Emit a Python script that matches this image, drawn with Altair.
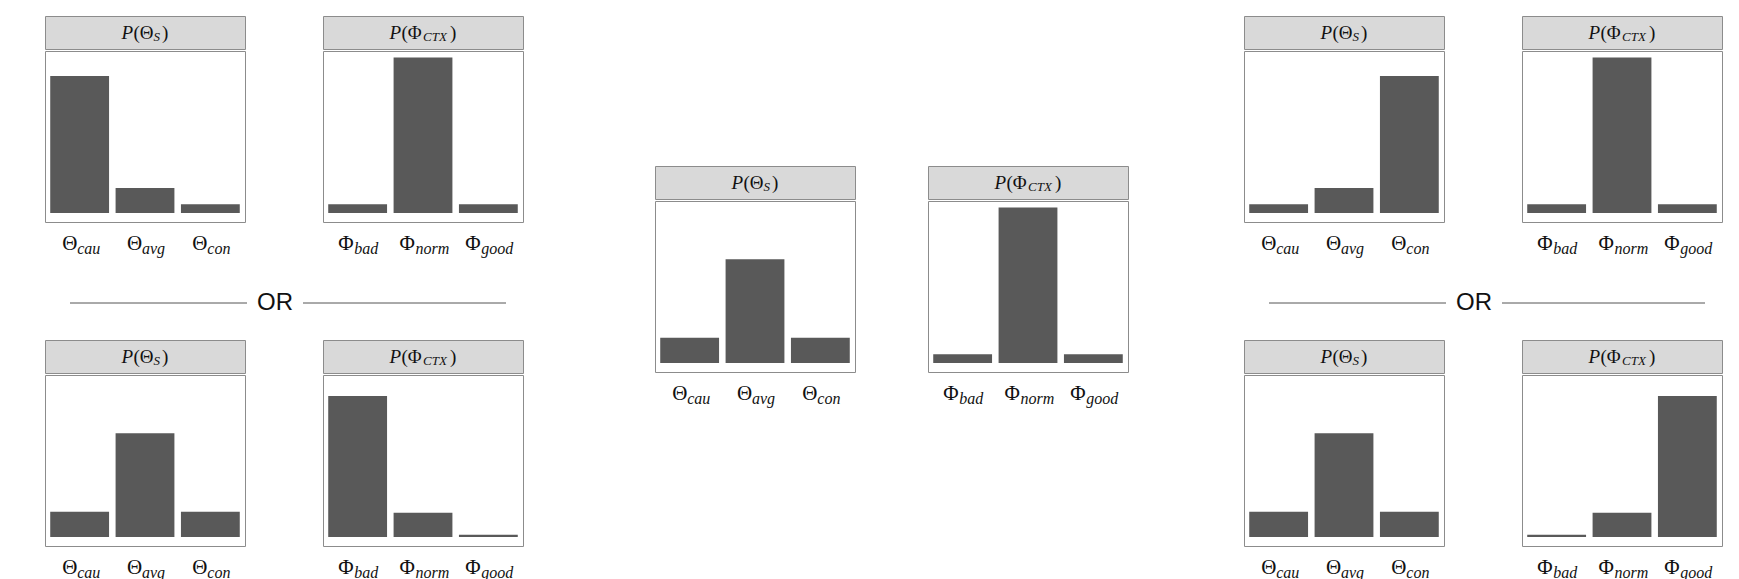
import altair as alt
import pandas as pd

# categories and subscripts
theta_cats = ["cau", "avg", "con"]
phi_cats = ["bad", "norm", "good"]

# probabilities
theta_cautious = [0.845, 0.155, 0.054]
theta_average = [0.156, 0.64, 0.156]
theta_confident = [0.054, 0.155, 0.845]
phi_normal = [0.054, 0.96, 0.054]
phi_bad = [0.87, 0.15, 0.014]
phi_good = [0.014, 0.15, 0.87]

SERIF = "Liberation Serif"
BAR = "#595959"
EDGE = "#8c8c8c"
W, HEAD_H, PLOT_H, LAB_H = 200, 33, 171, 35
PAD_IN, PAD_OUT = 0.1, 0.08
STEP = W / (3 - PAD_IN + 2 * PAD_OUT)
HALF_BAND = STEP * (1 - PAD_IN) / 2

# rough glyph widths (px) for centring the composed labels
SYM_W = {"Θ": 15, "Φ": 16}
SUB_W = {"cau": 20, "avg": 21, "con": 21, "bad": 23, "norm": 31, "good": 30}


def one_row():
    return pd.DataFrame({"a": [0]})


def spacer(w, h):
    return (
        alt.Chart(one_row())
        .mark_text(text="")
        .encode(x=alt.value(w / 2), y=alt.value(h / 2))
        .properties(width=w, height=h, view=alt.ViewConfig(stroke="transparent"))
    )


def header(sym, sub):
    # pieces: text, x offset from the start, dy, size, italic
    sym_w = 13.7 if sym == "Θ" else 15
    sub_w = 7.5 if sub == "S" else 26
    pieces = [
        ("P", 0, 0, 19, True),
        ("(", 12, 0, 19, False),
        (sym, 18.3, 0, 19, False),
        (sub, 18.5 + sym_w, 4, 13, True),
        (")", 19.5 + sym_w + sub_w, 0, 19, False),
    ]
    total = 26 + sym_w + sub_w
    start = W / 2 - total / 2
    layers = []
    for text, off, dy, size, ital in pieces:
        layers.append(
            alt.Chart(one_row())
            .mark_text(text=text, align="left", baseline="middle", font=SERIF,
                       fontSize=size, fontStyle="italic" if ital else "normal", color="#111")
            .encode(x=alt.value(start + off), y=alt.value(HEAD_H / 2 + dy))
        )
    return alt.layer(*layers).properties(
        width=W, height=HEAD_H, view=alt.ViewConfig(fill="#d9d9d9", stroke=EDGE)
    )


def panel(cats, sym, values):
    sub = "S" if sym == "Θ" else "CTX"
    xs = alt.X("cat:N", sort=cats, axis=None,
               scale=alt.Scale(paddingInner=PAD_IN, paddingOuter=PAD_OUT))
    df = pd.DataFrame({"cat": cats, "v": values})
    bars = (
        alt.Chart(df)
        .mark_bar(color=BAR)
        .encode(x=xs,
                y=alt.Y("v:Q", axis=None, scale=alt.Scale(domain=[-0.055, 1.0])),
                y2=alt.datum(0))
        .properties(width=W, height=PLOT_H, view=alt.ViewConfig(stroke=EDGE))
    )

    lab = pd.DataFrame({"cat": cats, "sym": [sym] * 3, "sub": cats})
    tot = [SYM_W[sym] + SUB_W[c] for c in cats]
    lab["o1"] = [HALF_BAND - t / 2 for t in tot]
    lab["o2"] = [HALF_BAND - t / 2 + SYM_W[sym] for t in tot]
    sym_text = (
        alt.Chart(lab)
        .mark_text(align="left", baseline="middle", font=SERIF, fontSize=21, color="#111")
        .encode(x=xs, xOffset=alt.XOffset("o1:Q", scale=None), y=alt.value(20), text="sym:N")
    )
    sub_text = (
        alt.Chart(lab)
        .mark_text(align="left", baseline="middle", font=SERIF, fontSize=16,
                   fontStyle="italic", color="#111")
        .encode(x=xs, xOffset=alt.XOffset("o2:Q", scale=None), y=alt.value(25), text="sub:N")
    )
    labels = alt.layer(sym_text, sub_text).properties(
        width=W, height=LAB_H, view=alt.ViewConfig(stroke="transparent")
    )
    return alt.vconcat(header(sym, sub), bars, labels, spacing=0)


def or_divider(width):
    base = alt.Chart(one_row())
    left = base.mark_rule(color="#555").encode(x=alt.value(25), x2=alt.value(202), y=alt.value(42))
    right = base.mark_rule(color="#555").encode(x=alt.value(258), x2=alt.value(461), y=alt.value(42))
    word = base.mark_text(text="OR", font="Liberation Sans", fontSize=24, color="#111",
                          align="center", baseline="middle").encode(x=alt.value(230), y=alt.value(42))
    return alt.layer(left, right, word).properties(
        width=width, height=77, view=alt.ViewConfig(stroke="transparent")
    )


GAP = 76
col_w = 2 * W + GAP


def pair(t_vals, p_vals, gap=GAP):
    return alt.hconcat(panel(theta_cats, "Θ", t_vals), panel(phi_cats, "Φ", p_vals), spacing=gap)


left_col = alt.vconcat(
    pair(theta_cautious, phi_normal), or_divider(col_w), pair(theta_average, phi_bad), spacing=0
)
mid_col = alt.vconcat(spacer(10, 148), pair(theta_average, phi_normal, gap=71), spacing=0)
right_col = alt.vconcat(
    pair(theta_confident, phi_normal), or_divider(col_w), pair(theta_average, phi_good), spacing=0
)

chart = alt.hconcat(
    left_col, spacer(128, 10), mid_col, spacer(112, 10), right_col, spacing=0
).properties(
    padding={"left": 36, "top": 6, "right": 5, "bottom": 5}
).configure(background="white")

chart.save("out.html", embed_options={"renderer": "svg", "actions": False})
